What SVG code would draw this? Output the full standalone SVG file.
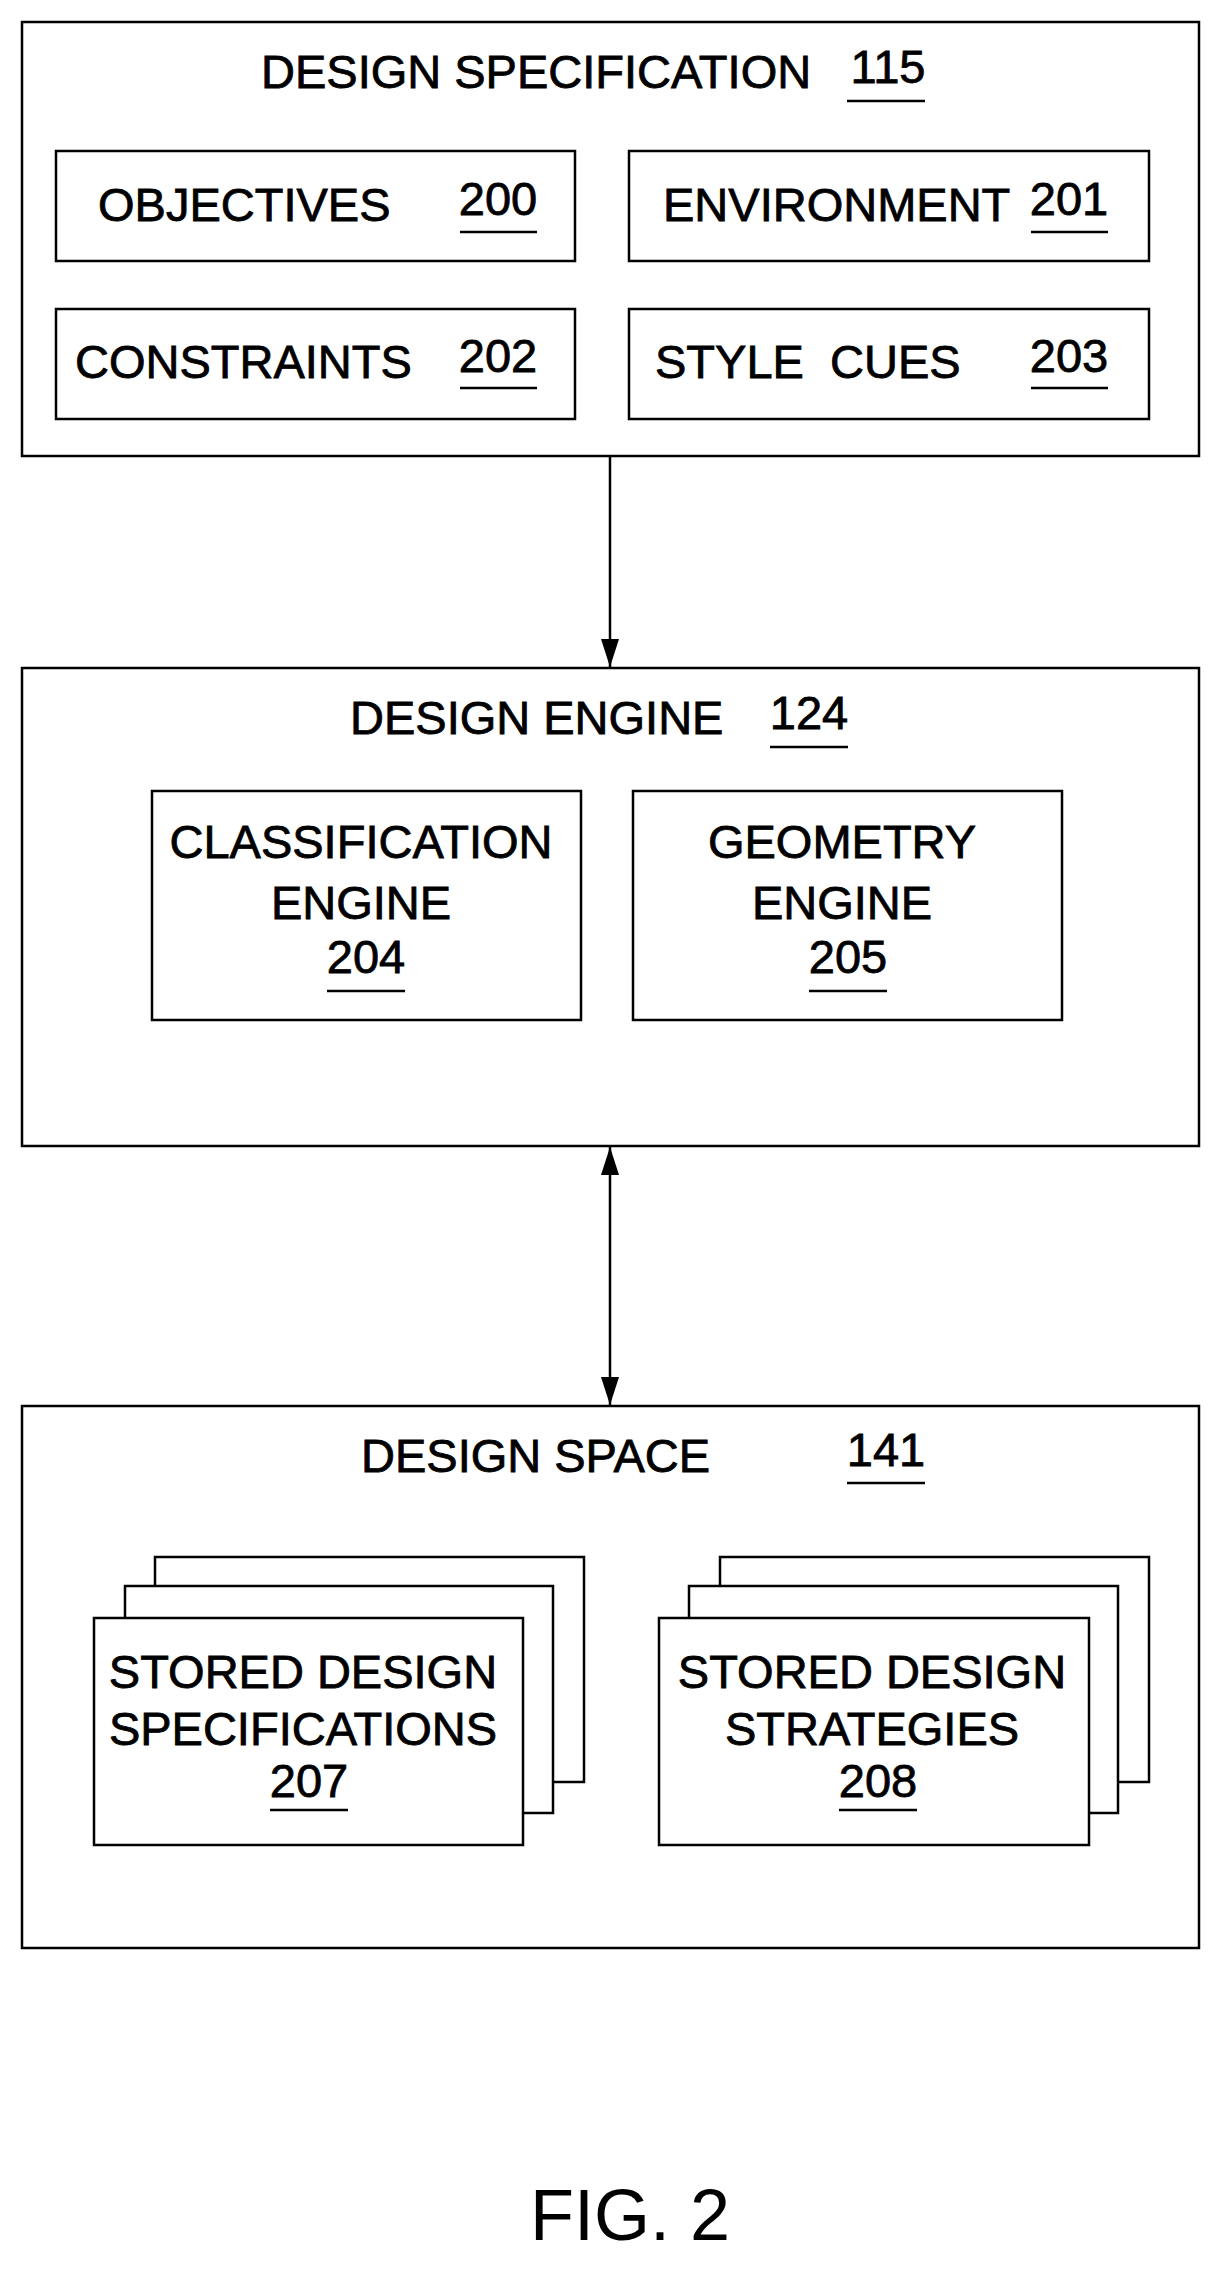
<svg xmlns="http://www.w3.org/2000/svg" width="1221" height="2271" viewBox="0 0 1221 2271">
<style>
rect{fill:#fff;stroke:#000;stroke-width:2.5}
text{font-family:"Liberation Sans",Arial,sans-serif;font-size:47px;fill:#000;stroke:#000;stroke-width:0.8}
.m{text-anchor:middle}
line{stroke:#000;stroke-width:2.5}
</style>
<defs><marker id="a" viewBox="0 0 10 10" refX="10" refY="5" markerWidth="28" markerHeight="18" orient="auto-start-reverse" markerUnits="userSpaceOnUse" preserveAspectRatio="none"><path d="M0,0 L10,5 L0,10 z" fill="#000"/></marker></defs>
<rect width="1221" height="2271" style="stroke:none"/>
<g id="spec">
<rect x="22" y="22" width="1177" height="434"/>
<text x="261" y="88">DESIGN SPECIFICATION</text>
<text x="888" y="83" class="m">115</text><line x1="847" y1="101" x2="925" y2="101"/>
</g>
<g id="obj"><rect x="56" y="151" width="519" height="110"/><text x="98" y="221">OBJECTIVES</text><text x="498" y="215" class="m">200</text><line x1="460" y1="232" x2="537" y2="232"/></g>
<g id="env"><rect x="629" y="151" width="520" height="110"/><text x="663" y="221">ENVIRONMENT</text><text x="1069" y="215" class="m">201</text><line x1="1031" y1="232" x2="1108" y2="232"/></g>
<g id="con"><rect x="56" y="309" width="519" height="110"/><text x="75" y="378">CONSTRAINTS</text><text x="498" y="372" class="m">202</text><line x1="460" y1="388" x2="537" y2="388"/></g>
<g id="sty"><rect x="629" y="309" width="520" height="110"/><text x="655" y="378" xml:space="preserve">STYLE  CUES</text><text x="1069" y="372" class="m">203</text><line x1="1031" y1="388" x2="1108" y2="388"/></g>
<g id="engine">
<rect x="22" y="668" width="1177" height="478"/>
<text x="350" y="734">DESIGN ENGINE</text>
<text x="809" y="729" class="m">124</text><line x1="770" y1="747" x2="848" y2="747"/>
</g>
<g id="cls"><rect x="152" y="791" width="429" height="229"/><text x="361" y="858" class="m">CLASSIFICATION</text><text x="361" y="919" class="m">ENGINE</text><text x="366" y="973" class="m">204</text><line x1="327" y1="991" x2="405" y2="991"/></g>
<g id="geo"><rect x="633" y="791" width="429" height="229"/><text x="842" y="858" class="m">GEOMETRY</text><text x="842" y="919" class="m">ENGINE</text><text x="848" y="973" class="m">205</text><line x1="809" y1="991" x2="887" y2="991"/></g>
<g id="space">
<rect x="22" y="1406" width="1177" height="542"/>
<text x="361" y="1472">DESIGN SPACE</text>
<text x="886" y="1466" class="m">141</text><line x1="847" y1="1483" x2="925" y2="1483"/>
</g>
<g id="s207"><rect x="155" y="1557" width="429" height="225"/><rect x="125" y="1586" width="428" height="227"/><rect x="94" y="1618" width="429" height="227"/>
<text x="303" y="1688" class="m">STORED DESIGN</text><text x="303" y="1745" class="m">SPECIFICATIONS</text><text x="309" y="1797" class="m">207</text><line x1="270" y1="1810" x2="348" y2="1810"/></g>
<g id="s208"><rect x="720" y="1557" width="429" height="225"/><rect x="689" y="1586" width="429" height="227"/><rect x="659" y="1618" width="430" height="227"/>
<text x="872" y="1688" class="m">STORED DESIGN</text><text x="872" y="1745" class="m">STRATEGIES</text><text x="878" y="1797" class="m">208</text><line x1="839" y1="1810" x2="917" y2="1810"/></g>
<g id="connectors">
<line x1="610" y1="456" x2="610" y2="667" marker-end="url(#a)"/>
<line x1="610" y1="1147" x2="610" y2="1405" marker-start="url(#a)" marker-end="url(#a)"/>
</g>
<text x="630" y="2240" class="m" style="font-size:72px;stroke-width:0">FIG. 2</text>
</svg>
